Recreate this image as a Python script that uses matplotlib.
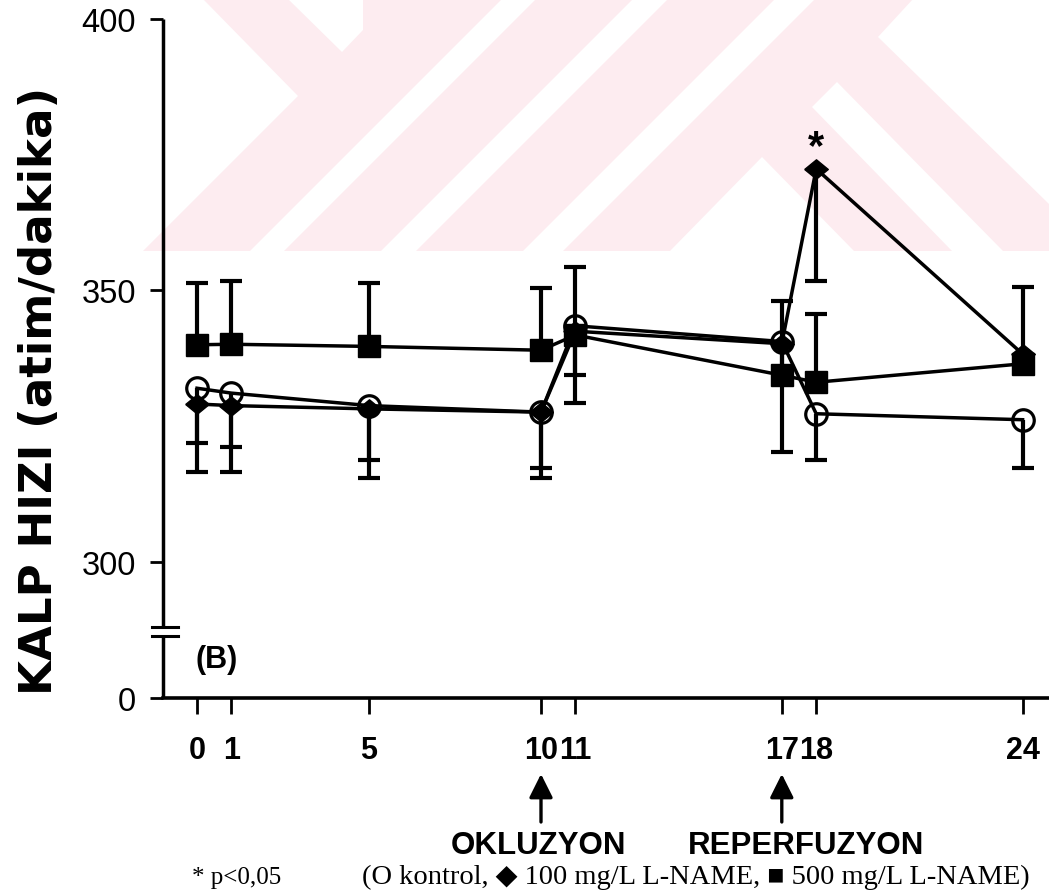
import numpy as np
import matplotlib
matplotlib.use("Agg")
import matplotlib.pyplot as plt
from matplotlib.patches import Polygon

# ---------------- data ----------------
times = [0, 1, 5, 10, 11, 17, 18, 24]
xtick_labels = ["0", "1", "5", "10", "11", "17", "18", "24"]

kontrol = [332.0, 331.1, 328.8, 327.6, 343.5, 340.6, 327.3, 326.2]
kontrol_sd_low = [10.0, 10.0, 10.1, 10.3, 9.1, 20.4, 8.5, 8.9]

name100 = [329.1, 328.8, 328.2, 327.6, 342.5, 340.2, 372.4, 338.3]
name100_sd_low = [12.6, 12.3, 12.7, 12.2, 13.3, None, 20.7, None]

name500 = [340.0, 340.1, 339.7, 339.0, 341.8, 334.4, 333.1, 336.5]
name500_sd_up = [11.4, 11.7, 11.6, 11.4, 12.5, 13.6, 12.6, 14.1]

ytick_values = [274.95, 300, 350, 400]      # bottom of broken axis shown as "0"
ytick_labels = ["0", "300", "350", "400"]
y_break = [286.4, 288.1]
signif_time = 18
event_times = [10, 17]
event_labels = ["OKLUZYON", "REPERFUZYON"]

plt.rcParams["font.family"] = ["Liberation Sans", "DejaVu Sans"]

W, H = 1049, 895
fig = plt.figure(figsize=(W / 100, H / 100), dpi=100)
fig.patch.set_facecolor("white")


def fp(pts):
    return [(x / W, 1 - y / H) for x, y in pts]


# ---------------- pale watermark (background) ----------------
pink = "#fdecf0"
outer = [(203, 0), (913, 0), (878, 38), (1049, 205), (1049, 252), (143, 252), (298, 97)]
whites = [
    [(288, 0), (363, 0), (363, 31), (342, 53)],
    [(502, 0), (536, 0), (284, 252), (250, 252)],
    [(633, 0), (668, 0), (416, 252), (381, 252)],
    [(775, 0), (815, 0), (563, 252), (523, 252)],
    [(670, 252), (762, 158), (854, 252)],
    [(812, 108), (837, 83), (1003, 252), (952, 252)],
]
fig.add_artist(Polygon(fp(outer), closed=True, transform=fig.transFigure,
                       facecolor=pink, edgecolor="none", zorder=0))
for wp in whites:
    fig.add_artist(Polygon(fp(wp), closed=True, transform=fig.transFigure,
                           facecolor="white", edgecolor="none", zorder=0.1))

# ---------------- axes ----------------
ax_left, ax_right, ax_top, ax_bottom = 163, 1048, 20, 699
ax = fig.add_axes([ax_left / W, 1 - ax_bottom / H, (ax_right - ax_left) / W,
                   (ax_bottom - ax_top) / H])
ax.patch.set_alpha(0)
ax.set_zorder(2)

px_per_x = 34.4
x0_px = 197
ax.set_xlim((ax_left - x0_px) / px_per_x, (ax_right - x0_px) / px_per_x)
ax.set_ylim(ytick_values[0], 400)

for s in ["top", "right", "left"]:
    ax.spines[s].set_visible(False)
ax.spines["bottom"].set_linewidth(2.6)

# broken left axis
ytr = ax.get_yaxis_transform()
ax.plot([0, 0], [ytick_values[0], y_break[0]], color="k", lw=2.5,
        transform=ytr, clip_on=False, solid_capstyle="butt")
ax.plot([0, 0], [y_break[1], 400], color="k", lw=2.5,
        transform=ytr, clip_on=False, solid_capstyle="butt")
for yb in y_break:
    ax.plot([-0.0125, 0.017], [yb, yb], color="k", lw=2.2,
            transform=ytr, clip_on=False)

ax.set_xticks(times)
ax.set_xticklabels(xtick_labels, fontsize=22, fontweight="bold")
ax.set_yticks(ytick_values)
ax.set_yticklabels(ytick_labels, fontsize=23.5)
ax.tick_params(axis="x", direction="out", length=11.5, width=2.0, pad=15)
ax.tick_params(axis="y", direction="out", length=9.5, width=2.0, pad=10)

# ---------------- series ----------------
def arr(v):
    return np.array([np.nan if e is None else e for e in v], dtype=float)

t = np.array(times, dtype=float)


def one_sided(y, err, sign):
    y = np.asarray(y, dtype=float)
    e = arr(err)
    m = ~np.isnan(e)
    end = y + sign * e
    ax.vlines(t[m], y[m], end[m], colors="k", lw=3.0, zorder=2)
    ax.plot(t[m], end[m], ls="none", marker="_", ms=16.5, mew=3.0, color="k", zorder=2)


one_sided(kontrol, kontrol_sd_low, -1)
one_sided(name100, name100_sd_low, -1)
one_sided(name500, name500_sd_up, +1)

ax.plot(t, kontrol, color="k", lw=2.5, zorder=2)
ax.plot(t, name100, color="k", lw=2.5, zorder=2)
ax.plot(t, name500, color="k", lw=2.5, zorder=2)

diamond = [(-1, 0), (0, 0.82), (1, 0), (0, -0.82), (-1, 0)]
ax.plot(t, name100, ls="none", marker=diamond, ms=17, color="k", zorder=3)
ax.plot(t, kontrol, ls="none", marker="o", ms=15.5, mfc="none", mec="k", mew=2.3, zorder=4)
ax.plot(t, name500, ls="none", marker="s", ms=16.5, color="k", zorder=5)

# significance star
si = times.index(signif_time)
ax.annotate("*", xy=(signif_time, name100[si]), xytext=(0, 1), textcoords="offset points",
            ha="center", va="bottom", fontsize=30, fontweight="bold", zorder=6)

# panel label
ax.text(217 / W, 1 - 660 / H, "(B)", transform=fig.transFigure, ha="center", va="center",
        fontsize=22, fontweight="bold")

# event arrows
tip = -(775 - ax_bottom) / (ax_bottom - ax_top)
base = -(823 - ax_bottom) / (ax_bottom - ax_top)
for et in event_times:
    ax.annotate("", xy=(et, tip), xycoords=("data", "axes fraction"),
                xytext=(et, base), textcoords=("data", "axes fraction"),
                arrowprops=dict(arrowstyle="-|>", color="k", lw=2.4,
                                mutation_scale=36, shrinkA=0, shrinkB=0))

fig.text(538 / W, 1 - 846.5 / H, event_labels[0], ha="center", va="center",
         fontsize=22.5, fontweight="bold")
fig.text(806 / W, 1 - 846.5 / H, event_labels[1], ha="center", va="center",
         fontsize=22.5, fontweight="bold")

# y label
fig.text(40 / W, 1 - 391 / H, "KALP HIZI (atim/dakika)", rotation=90,
         ha="center", va="center", fontsize=32.5, fontweight="bold",
         family=["DejaVu Sans"])

# footnote / legend line
serif = ["Liberation Serif", "DejaVu Serif"]
fig.text(237 / W, 1 - 884 / H, "* p<0,05", ha="center", va="baseline",
         fontsize=18, family=serif)
fig.text(696 / W, 1 - 884 / H,
         "(O kontrol, \u25C6 100 mg/L L-NAME, \u25A0 500 mg/L L-NAME)",
         ha="center", va="baseline", fontsize=20.5, family=serif)

fig.savefig("out.png", dpi=100, facecolor="white")
